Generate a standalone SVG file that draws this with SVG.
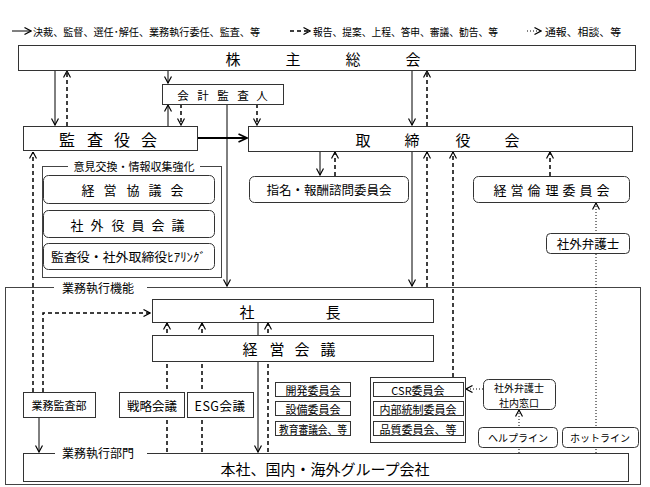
<svg xmlns="http://www.w3.org/2000/svg" width="650" height="487" viewBox="0 0 650 487">
<defs>
<style>
.bx{fill:#fff;stroke:#333;stroke-width:1}
.fr{fill:none;stroke:#444;stroke-width:1}
.bg{fill:#fff;stroke:none}
text{font-family:"Noto Sans CJK JP","Noto Sans CJK SC",sans-serif;fill:#000;dominant-baseline:central}
.m{text-anchor:middle}
.s{stroke:#000;stroke-width:1;fill:none}
.w{stroke:#000;stroke-width:2;fill:none}
.d{stroke:#000;stroke-width:1.5;stroke-dasharray:4 3;fill:none}
.o{stroke:#000;stroke-width:1;stroke-dasharray:1 2;fill:none}
</style>
<marker id="a" viewBox="0 0 8 8" refX="7.5" refY="4" markerWidth="8" markerHeight="8" orient="auto" markerUnits="userSpaceOnUse"><path d="M1,0.5 L7.5,4 L1,7.5" fill="none" stroke="#000" stroke-width="1.2"/></marker>
<marker id="b" viewBox="0 0 10 10" refX="9.5" refY="5" markerWidth="10" markerHeight="10" orient="auto" markerUnits="userSpaceOnUse"><path d="M1,1 L9.5,5 L1,9" fill="none" stroke="#000" stroke-width="1.6"/></marker>
</defs>
<rect width="650" height="487" fill="#fff"/>

<g id="legend">
<path class="s" d="M12,31 H31" marker-end="url(#a)"/>
<text x="33" y="31" font-size="10.5" textLength="227" lengthAdjust="spacingAndGlyphs">決裁、監督、選任･解任、業務執行委任、監査、等</text>
<path class="d" d="M290,31 H310" stroke-dasharray="3 3" marker-end="url(#a)"/>
<text x="313" y="31" font-size="10.5" textLength="185" lengthAdjust="spacingAndGlyphs">報告、提案、上程、答申、審議、勧告、等</text>
<path class="o" d="M527,31 H541" marker-end="url(#a)"/>
<text x="545" y="31" font-size="10.5" textLength="76" lengthAdjust="spacingAndGlyphs">通報、相談、等</text>
</g>

<g id="frame-exec">
<rect class="fr" x="5.5" y="287.5" width="635" height="197"/>
<rect class="bg" x="54" y="280" width="93" height="14"/>
<text x="62" y="287" font-size="12">業務執行機能</text>
</g>
<g id="frame-info">
<rect class="fr" x="42.5" y="166.5" width="179" height="111"/>
<rect class="bg" x="68" y="159" width="132" height="14"/>
<text class="m" x="134" y="166" font-size="11">意見交換・情報収集強化</text>
</g>

<g id="connectors">
<path class="s" d="M55,70 V125" marker-end="url(#a)"/>
<path class="d" d="M67,126 V71" marker-end="url(#a)"/>
<path class="s" d="M168,70 V83" marker-end="url(#a)"/>
<path class="s" d="M168,126 V105" marker-end="url(#a)"/>
<path class="d" d="M181,104 V125" marker-end="url(#a)"/>
<path class="d" d="M257,104 V125" marker-end="url(#a)"/>
<path class="s" d="M227,104 V286" marker-end="url(#a)"/>
<path class="w" d="M197,138 H247" marker-end="url(#b)"/>
<path class="s" d="M412,70 V125" marker-end="url(#a)"/>
<path class="d" d="M427,126 V71" marker-end="url(#a)"/>
<path class="s" d="M320,151 V175" marker-end="url(#a)"/>
<path class="d" d="M335,176 V152" marker-end="url(#a)"/>
<path class="s" d="M412,151 V286" marker-end="url(#a)"/>
<path class="d" d="M427,287 V152" marker-end="url(#a)"/>
<path class="d" d="M453,377 V152" marker-end="url(#a)"/>
<path class="d" d="M550,176 V152" marker-end="url(#a)"/>
<path class="o" d="M596,453 V203" marker-end="url(#a)"/>
<path class="d" d="M33,392 V152" marker-end="url(#a)"/>
<path class="d" d="M43,392 V313 H150" marker-end="url(#a)"/>
<path class="d" d="M167,452 V323" marker-end="url(#a)"/>
<path class="d" d="M202,452 V323" marker-end="url(#a)"/>
<path class="s" d="M258,322 V452" marker-end="url(#a)"/>
<path class="d" d="M268,452 V323" marker-end="url(#a)"/>
<path class="s" d="M39,417 V452" marker-end="url(#a)"/>
<path class="o" d="M483,389 H466" marker-end="url(#a)"/>
<path class="o" d="M519,453 V410" marker-end="url(#a)"/>
</g>

<g id="shareholders">
<rect class="bx" x="18.5" y="45.5" width="617" height="25"/>
<text class="m" x="233 293 353 413" y="58" font-size="15">株主総会</text>
</g>
<g id="accounting-auditor">
<rect class="bx" x="162.5" y="84.5" width="121" height="20"/>
<text class="m" x="183 203 223 243 262" y="94.5" font-size="11.5">会計監査人</text>
</g>
<g id="audit-board">
<rect class="bx" x="23.5" y="126.5" width="174" height="24"/>
<text class="m" x="67 95 122 149" y="138.5" font-size="16">監査役会</text>
</g>
<g id="board">
<rect class="bx" x="248.5" y="126.5" width="384" height="25"/>
<text class="m" x="363 412 463 512" y="139" font-size="15">取締役会</text>
</g>
<g id="mgmt-council">
<rect class="bx" x="43.5" y="175.5" width="171" height="28" rx="5"/>
<text class="m" x="88 110 133 155 177" y="189.5" font-size="13">経営協議会</text>
</g>
<g id="outside-officers">
<rect class="bx" x="43.5" y="210.5" width="171" height="27" rx="5"/>
<text class="m" x="77 97 118 138 158 178" y="224" font-size="13">社外役員会議</text>
</g>
<g id="hearing">
<rect class="bx" x="43.5" y="243.5" width="171" height="26" rx="5"/>
<text x="51" y="256.5" font-size="12.5" textLength="155" lengthAdjust="spacingAndGlyphs">監査役・社外取締役ﾋｱﾘﾝｸﾞ</text>
</g>
<g id="nomination">
<rect class="bx" x="249.5" y="176.5" width="159" height="26" rx="5"/>
<text class="m" x="329" y="189.5" font-size="12.5">指名・報酬諮問委員会</text>
</g>
<g id="ethics">
<rect class="bx" x="473.5" y="176.5" width="156" height="26" rx="5"/>
<text class="m" x="500 517 534 552 569 586 603" y="189.5" font-size="13">経営倫理委員会</text>
</g>
<g id="outside-lawyer">
<rect class="bx" x="546.5" y="233.5" width="83" height="20" rx="4"/>
<text class="m" x="588" y="243.5" font-size="12.5">社外弁護士</text>
</g>
<g id="president">
<rect class="bx" x="152.5" y="299.5" width="281" height="23"/>
<text class="m" x="247 333" y="311" font-size="15">社長</text>
</g>
<g id="mgmt-meeting">
<rect class="bx" x="152.5" y="335.5" width="281" height="26"/>
<text class="m" x="250 277 302 328" y="348.5" font-size="15">経営会議</text>
</g>
<g id="internal-audit">
<rect class="bx" x="23.5" y="392.5" width="72" height="25"/>
<text class="m" x="59" y="405" font-size="11">業務監査部</text>
</g>
<g id="strategy">
<rect class="bx" x="119.5" y="392.5" width="65" height="25"/>
<text class="m" x="152" y="405" font-size="12.5">戦略会議</text>
</g>
<g id="esg">
<rect class="bx" x="187.5" y="392.5" width="66" height="25"/>
<text class="m" x="220" y="405" font-size="12.5" letter-spacing="0.5">ESG会議</text>
</g>
<g id="committees-a">
<rect class="bx" x="275.5" y="382.5" width="75" height="14"/>
<text class="m" x="313" y="389.5" font-size="11">開発委員会</text>
<rect class="bx" x="275.5" y="401.5" width="75" height="14"/>
<text class="m" x="313" y="408.5" font-size="11">設備委員会</text>
<rect class="bx" x="275.5" y="421.5" width="75" height="14"/>
<text class="m" x="313" y="428.5" font-size="11" textLength="68" lengthAdjust="spacingAndGlyphs">教育審議会、等</text>
</g>
<g id="committees-b">
<rect class="bx" x="370.5" y="377.5" width="95" height="65"/>
<rect class="bx" x="373.5" y="382.5" width="90" height="14"/>
<text class="m" x="418" y="389.5" font-size="11">CSR委員会</text>
<rect class="bx" x="373.5" y="401.5" width="90" height="14"/>
<text class="m" x="418" y="408.5" font-size="11">内部統制委員会</text>
<rect class="bx" x="373.5" y="421.5" width="90" height="14"/>
<text class="m" x="418" y="428.5" font-size="11">品質委員会、等</text>
</g>
<g id="internal-window">
<rect class="bx" x="483.5" y="379.5" width="72" height="30" rx="5"/>
<text class="m" x="519" y="387.5" font-size="10">社外弁護士</text>
<text class="m" x="519" y="402" font-size="10">社内窓口</text>
</g>
<g id="helpline">
<rect class="bx" x="478.5" y="427.5" width="79" height="20" rx="4"/>
<text class="m" x="518" y="437.5" font-size="10">ヘルプライン</text>
</g>
<g id="hotline">
<rect class="bx" x="562.5" y="427.5" width="76" height="20" rx="4"/>
<text class="m" x="600" y="437.5" font-size="10">ホットライン</text>
</g>
<g id="group-companies">
<rect class="bx" x="23.5" y="453.5" width="605" height="28"/>
<rect class="bg" x="55" y="446" width="92" height="14"/>
<text x="62" y="452" font-size="12">業務執行部門</text>
<text class="m" x="325" y="468" font-size="15">本社、国内・海外グループ会社</text>
</g>
</svg>
